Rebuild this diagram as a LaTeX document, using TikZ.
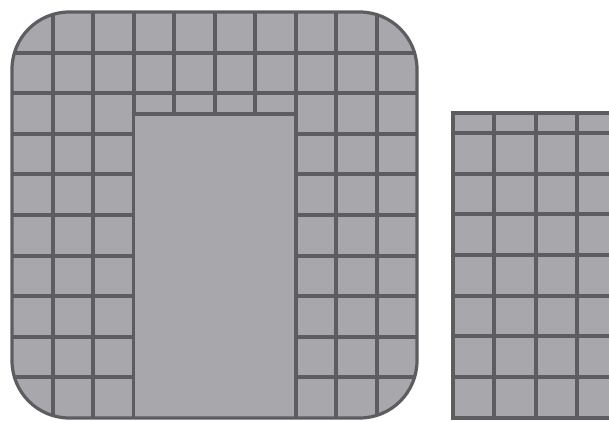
\documentclass[tikz,border=0pt]{standalone}

\definecolor{tilefill}{HTML}{A8A8AC}
\definecolor{groutline}{HTML}{5D5D61}

\tikzset{
    grout/.style={draw=groutline, line width=3pt},
    tileedge/.style={draw=groutline, line width=2.4pt},
}

\begin{document}
\begin{tikzpicture}[x=0.75pt, y=-0.75pt]

    \useasboundingbox (0,0) rectangle (609,421);

    % Big rounded tile
    \begin{scope}
        \clip[rounded corners=43pt] (12,12) rectangle (417,418);
        \fill[tilefill] (12,12) rectangle (417,418);
        \foreach \i in {1,...,9} {
            \draw[grout] ({12+40.5*\i},12) -- ({12+40.5*\i},418);
            \draw[grout] (12,{12+40.6*\i}) -- (417,{12+40.6*\i});
        }
        % Plain middle part
        \fill[tilefill] (135,115.5) rectangle (294,418);
        \draw[grout] (133.5,114) -- (295.5,114);
    \end{scope}
    \draw[tileedge, rounded corners=43pt] (12,12) rectangle (417,418);

    % Cut piece on the right
    \begin{scope}
        \clip (0,0) rectangle (609,421);
        \fill[tilefill] (453,113) rectangle (620,418);
        \foreach \i in {1,...,3}
            \draw[grout] ({453+41.3*\i},113) -- ({453+41.3*\i},418);
        \foreach \y in {133,174,214,255,296,336,377}
            \draw[grout] (453,\y) -- (620,\y);
        \draw[grout] (620,113) -- (453,113) -- (453,418) -- (620,418);
    \end{scope}

\end{tikzpicture}
\end{document}
